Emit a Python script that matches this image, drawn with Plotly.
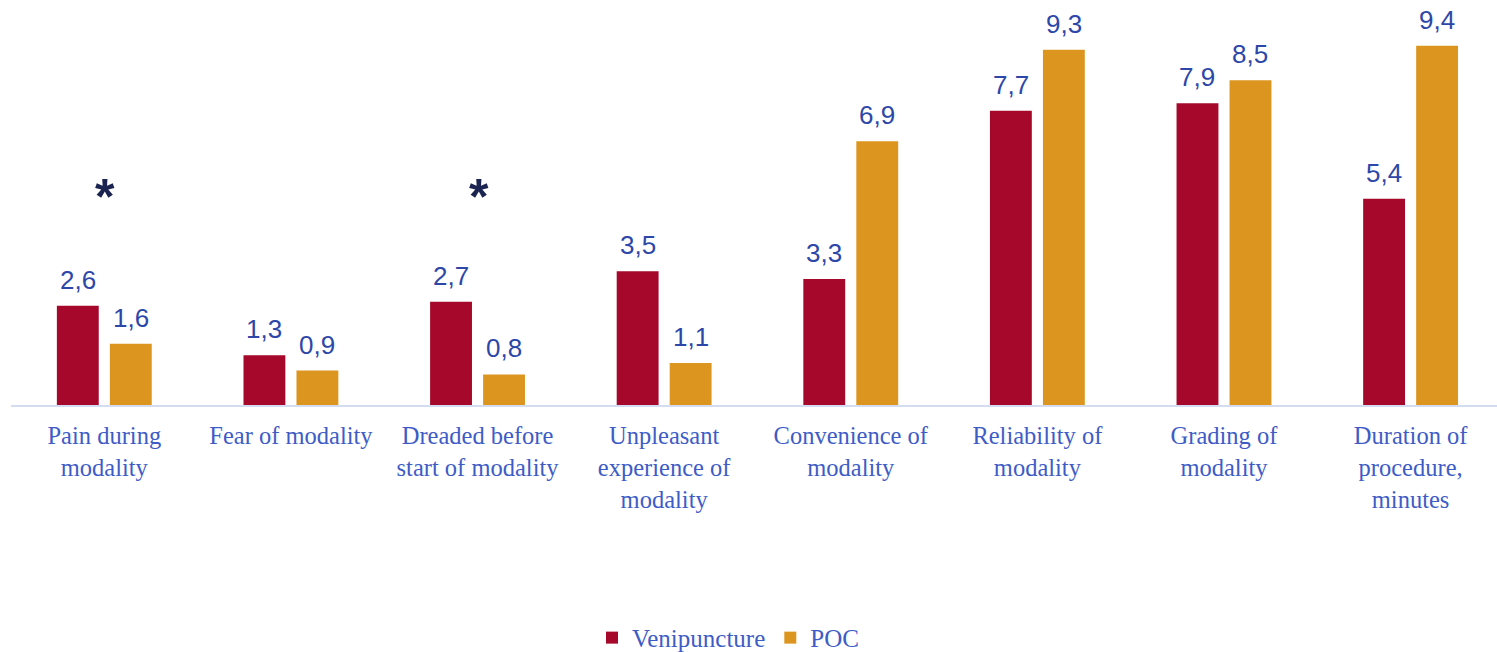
import plotly.graph_objects as go

categories = [
    "Pain during<br>modality",
    "Fear of modality",
    "Dreaded before<br>start of modality",
    "Unpleasant<br>experience of<br>modality",
    "Convenience of<br>modality",
    "Reliability of<br>modality",
    "Grading of<br>modality",
    "Duration of<br>procedure,<br>minutes",
]
venipuncture = [2.6, 1.3, 2.7, 3.5, 3.3, 7.7, 7.9, 5.4]
poc = [1.6, 0.9, 0.8, 1.1, 6.9, 9.3, 8.5, 9.4]
significant = [True, False, True, False, False, False, False, False]

RED = "#A5082A"
ORANGE = "#DC9620"
LABEL_BLUE = "#3E5CC6"
VALUE_BLUE = "#2D47A8"
STAR = "#1B2450"

fig = go.Figure()
fig.add_trace(go.Bar(name="Venipuncture", x=categories, y=venipuncture,
                     marker=dict(color=RED, line=dict(width=0))))
fig.add_trace(go.Bar(name="POC", x=categories, y=poc,
                     marker=dict(color=ORANGE, line=dict(width=0))))

annotations = []
for cat, v1, v2, sig in zip(categories, venipuncture, poc, significant):
    for v, dx in ((v1, -26.5), (v2, 26.5)):
        annotations.append(dict(
            x=cat, y=v, xref="x", yref="y", xshift=dx, yshift=9,
            text=f"{v:.1f}".replace(".", ","), showarrow=False,
            yanchor="bottom", xanchor="center",
            font=dict(family="Liberation Sans, Arial, sans-serif", size=26, color=VALUE_BLUE),
        ))
    if sig:
        annotations.append(dict(
            x=cat, y=5.45, xref="x", yref="y", xshift=1,
            text="<b>*</b>", showarrow=False, yanchor="middle", xanchor="center",
            font=dict(family="Liberation Sans, Arial, sans-serif", size=50, color=STAR),
        ))

fig.update_layout(
    width=1497, height=652,
    margin=dict(l=11, r=0, t=0, b=247, autoexpand=False),
    paper_bgcolor="white", plot_bgcolor="white",
    barmode="group", bargap=0.432, bargroupgap=0.21,
    showlegend=True,
    legend=dict(orientation="h", x=0.4825, xanchor="center", y=-0.575, yanchor="middle",
                font=dict(family="Liberation Serif, Cambria, serif", size=25, color=LABEL_BLUE),
                itemsizing="constant"),
    annotations=annotations,
    xaxis=dict(
        range=[-0.5, 7.463], showline=True, linecolor="#D3DCF0", linewidth=2,
        ticks="", showgrid=False, zeroline=False, ticklabelstandoff=8,
        tickfont=dict(family="Liberation Serif, Cambria, serif", size=24.5, color=LABEL_BLUE),
        fixedrange=True,
    ),
    yaxis=dict(range=[0, 10.6], visible=False, showgrid=False, zeroline=False),
)

fig.write_html("out.html", config={"displayModeBar": False},
               post_script="document.body.style.margin='0';document.body.style.overflow='hidden';")
